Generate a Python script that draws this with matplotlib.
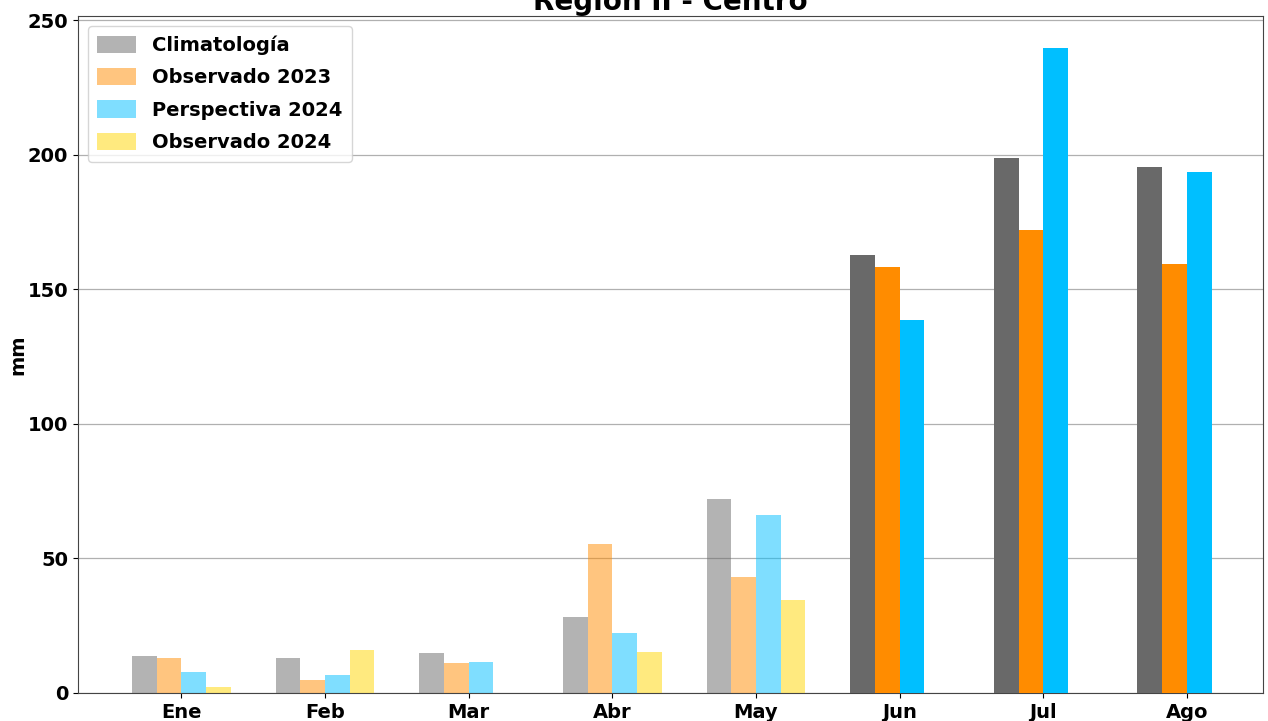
import numpy as np
import matplotlib.pyplot as plt

# --- DATOS ---
meses = ['Ene', 'Feb', 'Mar', 'Abr', 'May', 'Jun', 'Jul', 'Ago']
climatologia = [13.7, 13.0, 14.9, 28.3, 72.0, 162.7, 198.7, 195.4]
observado_2023 = [13.0, 4.8, 11.0, 55.3, 43.1, 158.2, 172.0, 159.4]
perspectiva_2024 = [7.8, 6.7, 11.5, 22.3, 66.1, 138.5, 239.6, 193.5]
observado_2024 = [2.2, 16.0, 0.0, 15.2, 34.5]  # solo hasta mayo

series = [
    ('Climatología', climatologia, 'dimgray'),
    ('Observado 2023', observado_2023, 'darkorange'),
    ('Perspectiva 2024', perspectiva_2024, 'deepskyblue'),
    ('Observado 2024', observado_2024, 'gold'),
]

# meses ya observados se pintan mas claros
n_pasados = 5

# --- GRAFICO ---
fig = plt.figure(figsize=(12.68, 7.21), dpi=100)
ax = fig.add_axes([78 / 1268, 28 / 721, (1263 - 78) / 1268, (705 - 28) / 721])

x = np.arange(len(meses))
w = 0.172
offsets = [-1.5 * w, -0.5 * w, 0.5 * w, 1.5 * w]

for (nombre, valores, color), off in zip(series, offsets):
    vals = np.array(valores, dtype=float)
    idx = np.arange(len(vals))
    pasados = idx < n_pasados
    ax.bar(x[idx[pasados]] + off, vals[pasados], width=w, color=color,
           alpha=0.5, label=nombre, zorder=3)
    if (~pasados).any():
        ax.bar(x[idx[~pasados]] + off, vals[~pasados], width=w, color=color,
               zorder=3)

ax.set_xlim(-0.72, 7.53)
ax.set_ylim(0, 251.5)
ax.set_yticks([0, 50, 100, 150, 200, 250])
ax.set_xticks(x)
ax.set_xticklabels(meses)
for lbl in ax.get_xticklabels() + ax.get_yticklabels():
    lbl.set_fontsize(14)
    lbl.set_fontweight('bold')

ax.grid(axis='y', color='#b0b0b0', linewidth=0.9, zorder=0)
for s in ax.spines.values():
    s.set_color('#444444')

ax.set_ylabel('mm', fontsize=14, fontweight='bold', labelpad=0)
ax.set_title('Región II - Centro', fontsize=20, fontweight='bold', pad=2)

ax.legend(loc='upper left', prop={'size': 14, 'weight': 'bold'},
          handlelength=2.0, handleheight=1.0, borderpad=0.5,
          labelspacing=0.67, bbox_to_anchor=(0.0, 1.0), borderaxespad=0.5)

fig.savefig('out.png', dpi=100)
